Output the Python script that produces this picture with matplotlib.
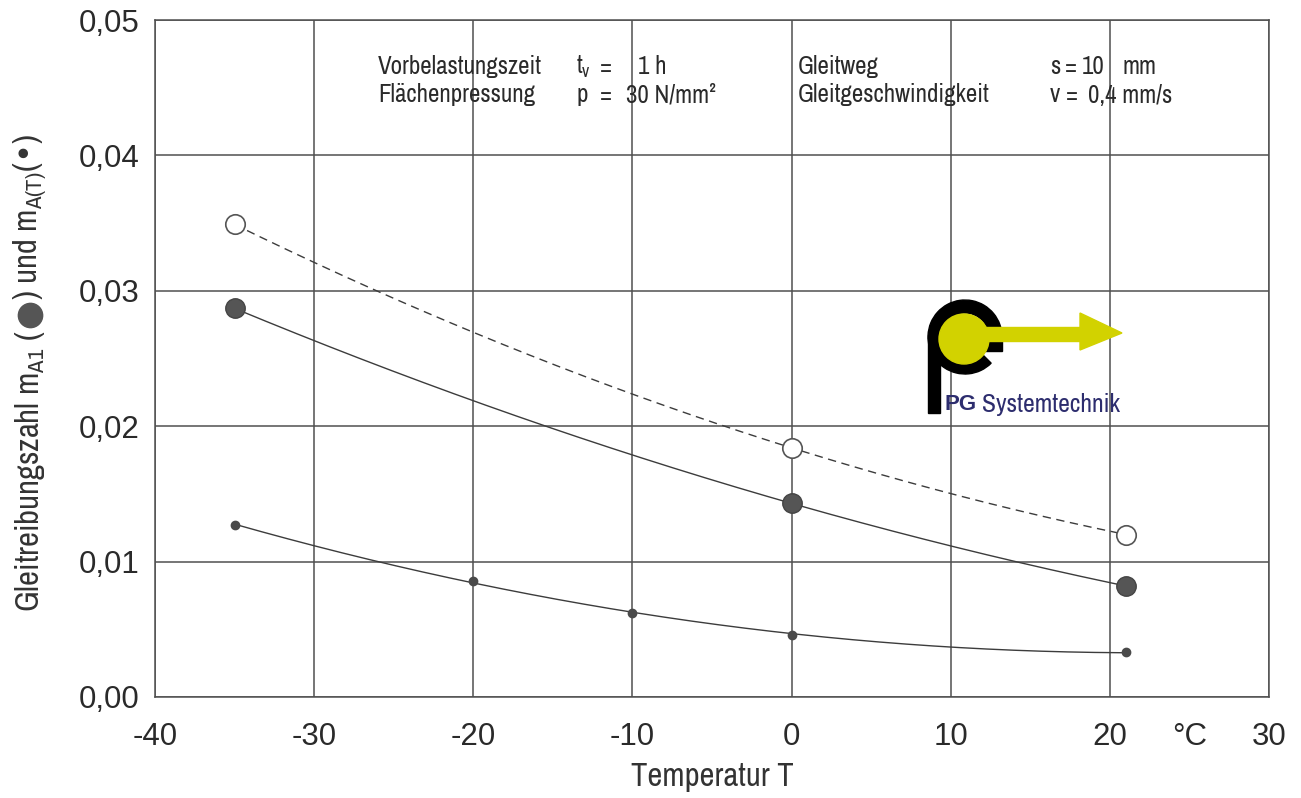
import matplotlib
matplotlib.use("Agg")
import matplotlib.pyplot as plt
import numpy as np
from matplotlib import font_manager
from matplotlib.patches import Circle, Wedge, Rectangle, Polygon
from matplotlib.lines import Line2D

# data
temps_big = [-35, 0, 21]
m_open = [0.0349, 0.0184, 0.0120]      # open circles, dashed curve
m_a1 = [0.0287, 0.0143, 0.0082]        # large filled circles
temps_small = [-35, -20, -10, 0, 21]
m_at = [0.0127, 0.0086, 0.0062, 0.0046, 0.0033]  # small dots

xticks = [-40, -30, -20, -10, 0, 10, 20, 30]
yticks = [0.0, 0.01, 0.02, 0.03, 0.04, 0.05]
ytick_labels = ["0,00", "0,01", "0,02", "0,03", "0,04", "0,05"]

# look for a condensed face, the original uses Helvetica Narrow style lettering
names = sorted({f.name for f in font_manager.fontManager.ttflist})
narrow = [n for n in names if "Narrow" in n or "Condensed" in n]
if narrow:
    NARROW, scale = narrow[0], 1.0
else:
    NARROW, scale = "Liberation Sans", 0.86
REG = "Liberation Sans"
GRID = "#4f4f4f"
INK = "#3c3c3c"
TXT = "#2a2a2a"

W, H = 1301, 798
fig = plt.figure(figsize=(W / 100, H / 100), dpi=100)
L, R, T, B = 155, 1269, 20, 697
ax = fig.add_axes([L / W, 1 - B / H, (R - L) / W, (B - T) / H])


def px(x, y):
    return (x / W, 1 - y / H)


ax.set_xlim(-40, 30)
ax.set_ylim(0, 0.05)
ax.set_xticks(xticks)
ax.set_xticklabels([str(v) for v in xticks], family=REG, fontsize=22.5, color=TXT)
ax.set_yticks(yticks)
ax.set_yticklabels(ytick_labels, family=REG, fontsize=22.5, color=TXT)
ax.tick_params(length=0)
ax.tick_params(axis="y", pad=11)
ax.tick_params(axis="x", pad=18)
ax.grid(True, color=GRID, linewidth=1.1)
for s in ax.spines.values():
    s.set_color(GRID)
    s.set_linewidth(1.1)
ax.set_axisbelow(True)


def smooth(xs, ys, deg=2):
    c = np.polyfit(xs, ys, deg)
    xx = np.linspace(min(xs), max(xs), 200)
    return xx, np.polyval(c, xx)


ax.plot(*smooth(temps_big, m_open), color=INK, lw=1.0, ls=(0, (6, 4)), zorder=3)
ax.plot(*smooth(temps_big, m_a1), color=INK, lw=1.0, zorder=3)
ax.plot(*smooth(temps_small, m_at), color=INK, lw=1.0, zorder=3)

ax.plot(temps_big, m_open, "o", ms=14, mfc="white", mec="#555555", mew=1.2, zorder=4)
ax.plot(temps_big, m_a1, "o", ms=14, mfc="#555555", mec="#444444", mew=1.0, zorder=4)
ax.plot(temps_small, m_at, "o", ms=6, mfc="#4a4a4a", mec="#4a4a4a", zorder=4)

# axis titles
fig.text(*px(712, 777), "Temperatur T", family=NARROW, fontsize=23.5 * scale, color="#333333",
         ha="center", va="center")

ylab = dict(family=NARROW, fontsize=23.5 * scale, color="#333333", rotation=90,
            ha="center", va="bottom")
lab_x, lab_y = 30, 612
t1 = fig.text(*px(lab_x, lab_y), "Gleitreibungszahl m$_{\\mathregular{A1}}$ (", **ylab)
fig.canvas.draw()
rend = fig.canvas.get_renderer()
ext = t1.get_window_extent(rend)
top_px = H - ext.y1          # in image coordinates
dot_r = 12
dot_c = top_px - 3 - dot_r
fig.add_artist(Line2D([px(lab_x, dot_c)[0]], [px(lab_x, dot_c)[1]], marker="o", ms=17.5,
                      mfc="#555555", mec="#555555", transform=fig.transFigure))
fig.text(*px(lab_x, dot_c - dot_r - 3), ") und m$_{\\mathregular{A(T)}}$(\u2022)", **ylab)

fig.text(*px(1190, 737), "\u00B0C", fontsize=22.5, family=REG, color=TXT,
         ha="center", va="center")

hdr = dict(family=NARROW, fontsize=18 * scale, color=TXT, va="center")
fig.text(*px(378, 67), "Vorbelastungszeit", **hdr)
fig.text(*px(576, 67), "t$_\\mathregular{v}$", **hdr)
fig.text(*px(600, 67), "=", **hdr)
fig.text(*px(638, 67), "1 h", **hdr)
fig.text(*px(798, 67), "Gleitweg", **hdr)
fig.text(*px(1050, 67), "s", **hdr)
fig.text(*px(1065, 67), "=", **hdr)
fig.text(*px(1082, 67), "10", **hdr)
fig.text(*px(1122, 67), "mm", **hdr)
fig.text(*px(378, 95), "Flächenpressung", **hdr)
fig.text(*px(576, 95), "p", **hdr)
fig.text(*px(600, 95), "=", **hdr)
fig.text(*px(626, 95), "30 N/mm\u00B2", **hdr)
fig.text(*px(798, 95), "Gleitgeschwindigkeit", **hdr)
fig.text(*px(1050, 95), "v", **hdr)
fig.text(*px(1066, 95), "=", **hdr)
fig.text(*px(1088, 95), "0,4 mm/s", **hdr)

# logo drawn in its own pixel-scaled axes
lx0, lx1, ly0, ly1 = 915, 1135, 295, 425
lax = fig.add_axes([lx0 / W, 1 - ly1 / H, (lx1 - lx0) / W, (ly1 - ly0) / H])
lax.set_xlim(lx0, lx1)
lax.set_ylim(ly1, ly0)
lax.axis("off")
YEL = "#d2d200"
NAVY = "#2d2d6e"
lax.add_patch(Rectangle((928, 335), 12, 78, color="black", zorder=1))
lax.add_patch(Wedge((965, 337), 37, 45, 360, width=13, color="black", zorder=2))
lax.add_patch(Rectangle((983, 334), 19, 17, color="black", zorder=2))
lax.add_patch(Circle((964, 339), 25, color=YEL, zorder=3))
lax.add_patch(Rectangle((965, 327), 117, 14, color=YEL, zorder=4))
lax.add_patch(Polygon([(1080, 313), (1122, 333), (1080, 350)], closed=True, color=YEL, zorder=4))
lax.text(944, 405, "PG", fontsize=16, fontweight="bold", family=REG, color=NAVY, va="center")
lax.text(982, 405, "Systemtechnik", fontsize=18.5 * scale, family=NARROW,
         color=NAVY, va="center")

fig.savefig("out.png", dpi=100)
